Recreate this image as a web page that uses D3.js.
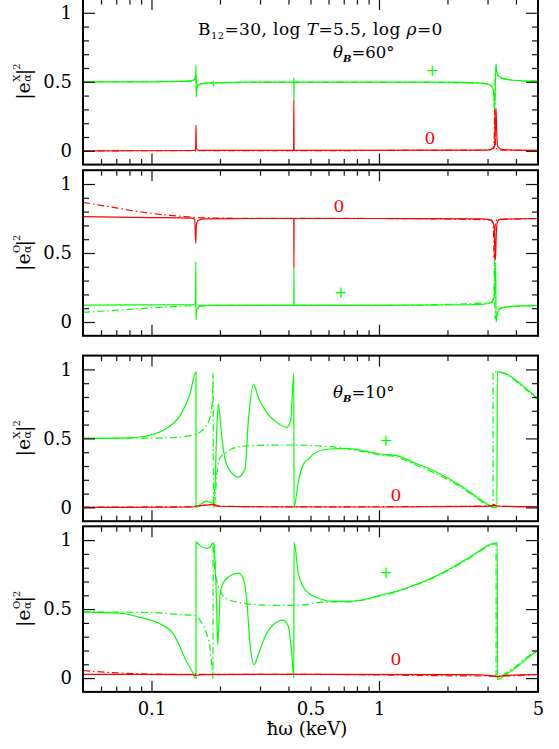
<!DOCTYPE html>
<html>
<head>
<meta charset="utf-8">
<script src="https://cdn.jsdelivr.net/npm/d3@7"></script>
<style>
  body { margin: 0; background: #fff; }
  svg { display: block; }
</style>
</head>
<body>
<div id="chart"></div>
<script>
// photon energy axis (keV) and ticks
const energyRange = [0.05, 5]
const xMajor = [0.1, 1]
const xMinor = [0.06, 0.07, 0.08, 0.09, 0.2, 0.3, 0.4, 0.5, 0.6, 0.7, 0.8, 0.9, 2, 3, 4]
const xLabels = [0.1, 0.5, 1, 5]
const yRange = [-0.1, 1.1]
const yMajor = [0, 0.5, 1]
const yMinor = [0.1, 0.2, 0.3, 0.4, 0.6, 0.7, 0.8, 0.9]

// panel 1: |e_X|^2, theta_B = 60
const x60GreenSolid = [[0.05, 0.5], [0.1, 0.5], [0.14, 0.503], [0.15, 0.508], [0.155, 0.52], [0.1565, 0.55], [0.1569, 0.62], [0.1573, 0.39], [0.158, 0.44], [0.16, 0.47], [0.165, 0.485], [0.18, 0.492], [0.25, 0.497], [0.4215, 0.5], [0.4225, 0.53], [0.4228, 0.37], [0.4235, 0.49], [0.43, 0.497], [1, 0.498], [2, 0.497], [2.8, 0.49], [3.05, 0.48], [3.15, 0.46], [3.2, 0.4], [3.22, 0.3], [3.25, 0.5], [3.27, 0.63], [3.29, 0.58], [3.35, 0.545], [3.5, 0.525], [3.8, 0.513], [4.3, 0.507], [5, 0.505]]
const x60GreenDash = [[0.05, 0.5], [0.15, 0.505], [0.155, 0.515], [0.157, 0.54], [0.1575, 0.47], [0.16, 0.485], [0.185, 0.49], [0.1865, 0.51], [0.187, 0.47], [0.19, 0.49], [0.3, 0.497], [1, 0.497], [2.8, 0.49], [3.1, 0.475], [3.18, 0.45], [3.21, 0.35], [3.23, 0.25], [3.24, 0.55], [3.26, 0.6], [3.3, 0.56], [3.4, 0.53], [3.7, 0.515], [5, 0.505]]
const x60RedSolid = [[0.05, 0], [0.155, 0.002], [0.1565, 0.03], [0.157, 0.186], [0.1575, 0.02], [0.16, 0.004], [0.4215, 0.003], [0.4225, 0.37], [0.4235, 0.003], [3.0, 0.005], [3.2, 0.02], [3.25, 0.15], [3.27, 0.31], [3.29, 0.15], [3.33, 0.03], [3.5, 0.008], [5, 0.003]]
const x60RedDash = [[0.05, 0], [3.0, 0.004], [3.18, 0.02], [3.21, 0.1], [3.225, 0.3], [3.24, 0.1], [3.27, 0.02], [3.4, 0.005], [5, 0.002]]

// panel 2: |e_O|^2, theta_B = 60
const o60GreenSolid = [[0.05, 0.123], [0.15, 0.125], [0.155, 0.13], [0.1562, 0.16], [0.1566, 0.437], [0.1569, 0.015], [0.1575, 0.07], [0.16, 0.1], [0.165, 0.115], [0.18, 0.12], [0.4222, 0.12], [0.4228, 0.39], [0.4234, 0.12], [1, 0.12], [2.5, 0.125], [2.9, 0.13], [3.1, 0.14], [3.18, 0.16], [3.23, 0.22], [3.26, 0.43], [3.27, 0], [3.3, 0.04], [3.35, 0.08], [3.45, 0.1], [3.7, 0.112], [5, 0.12]]
const o60GreenDash = [[0.05, 0.07], [0.06, 0.078], [0.07, 0.085], [0.08, 0.092], [0.1, 0.102], [0.12, 0.11], [0.14, 0.116], [0.155, 0.12], [0.2, 0.121], [1, 0.12], [3.1, 0.14], [3.2, 0.2], [3.22, 0.45], [3.235, 0.02], [3.27, 0.05], [3.4, 0.1], [5, 0.12]]
const o60RedSolid = [[0.05, 0.763], [0.1, 0.757], [0.15, 0.752], [0.155, 0.745], [0.1565, 0.57], [0.1575, 0.7], [0.16, 0.735], [0.17, 0.748], [0.25, 0.75], [0.4222, 0.75], [0.4228, 0.39], [0.4234, 0.75], [1, 0.75], [2.8, 0.748], [3.1, 0.74], [3.18, 0.72], [3.22, 0.65], [3.25, 0.45], [3.28, 0.65], [3.32, 0.73], [3.45, 0.745], [5, 0.75]]
const o60RedDash = [[0.05, 0.867], [0.06, 0.845], [0.07, 0.827], [0.08, 0.81], [0.09, 0.797], [0.1, 0.787], [0.12, 0.773], [0.14, 0.764], [0.16, 0.757], [0.2, 0.753], [0.3, 0.751], [1, 0.75], [3.1, 0.74], [3.18, 0.7], [3.21, 0.45], [3.24, 0.7], [3.3, 0.74], [5, 0.75]]

// panel 3: |e_X|^2, theta_B = 10
const x10GreenSolid = [[0.05, 0.5], [0.0727, 0.502], [0.089, 0.51], [0.0985, 0.524], [0.1166, 0.574], [0.1335, 0.665], [0.1476, 0.82], [0.1569, 0.983], [0.157, 0], [0.165, 0.025], [0.1748, 0.045], [0.182, 0.035], [0.1855, 0.03], [0.19, 0.15], [0.1935, 0.55], [0.1966, 0.75], [0.2035, 0.52], [0.2104, 0.35], [0.2213, 0.266], [0.2407, 0.22], [0.2576, 0.277], [0.2664, 0.62], [0.2802, 0.894], [0.2948, 0.797], [0.321, 0.688], [0.355, 0.616], [0.3929, 0.58], [0.4091, 0.63], [0.4225, 0.97], [0.423, 0], [0.4418, 0.18], [0.4494, 0.24], [0.4646, 0.31], [0.4971, 0.36], [0.5143, 0.387], [0.6089, 0.423], [0.7211, 0.428], [0.8531, 0.41], [1.0102, 0.387], [1.1963, 0.375], [1.4156, 0.326], [1.6757, 0.278], [1.9843, 0.217], [2.3484, 0.145], [2.7797, 0.06], [3.0224, 0.02], [3.3, 0], [3.311, 0.983], [3.642, 0.967], [4.03, 0.918], [4.459, 0.858], [5, 0.786]]
const x10GreenDash = [[0.05, 0.5], [0.1, 0.502], [0.13, 0.508], [0.1476, 0.52], [0.1634, 0.545], [0.1808, 0.65], [0.1855, 0.8], [0.1864, 0.974], [0.1872, 0], [0.1902, 0.05], [0.1935, 0.24], [0.2, 0.36], [0.214, 0.399], [0.2289, 0.43], [0.271, 0.447], [0.3671, 0.452], [0.4494, 0.452], [0.55, 0.445], [0.6089, 0.44], [0.7211, 0.425], [0.8531, 0.405], [1.0102, 0.38], [1.1963, 0.365], [1.4156, 0.315], [1.6757, 0.265], [1.9843, 0.205], [2.3484, 0.135], [2.7797, 0.05], [3.0, 0.015], [3.17, 0], [3.172, 0.98], [3.292, 0.982], [3.642, 0.962], [4.03, 0.91], [4.459, 0.85], [5, 0.78]]
const x10RedSolid = [[0.05, 0], [0.15, 0.003], [0.157, 0.01], [0.17, 0.015], [0.186, 0.02], [0.19, 0.01], [0.25, 0.005], [1, 0.003], [3.0, 0.008], [3.2, 0.015], [3.3, 0.01], [5, 0.005]]
const x10RedDash = [[0.05, 0.002], [0.15, 0.005], [0.175, 0.018], [0.186, 0.022], [0.2, 0.008], [0.5, 0.004], [3.1, 0.01], [3.2, 0.02], [3.3, 0.008], [5, 0.005]]

// panel 4: |e_O|^2, theta_B = 10
const o10GreenSolid = [[0.05, 0.478], [0.0727, 0.47], [0.089, 0.44], [0.109, 0.394], [0.1247, 0.32], [0.1335, 0.225], [0.1428, 0.116], [0.1527, 0.03], [0.1553, 0], [0.1569, 0], [0.157, 0.986], [0.1634, 0.96], [0.1748, 0.94], [0.1808, 0.95], [0.1864, 0.98], [0.1883, 0.97], [0.1935, 0.5], [0.1954, 0.24], [0.1985, 0.45], [0.2, 0.6], [0.2068, 0.69], [0.2213, 0.74], [0.2407, 0.76], [0.2532, 0.72], [0.2621, 0.57], [0.271, 0.25], [0.2822, 0.097], [0.2948, 0.17], [0.3155, 0.3], [0.343, 0.387], [0.3795, 0.42], [0.3993, 0.375], [0.4133, 0.18], [0.4225, 0], [0.423, 0.983], [0.4418, 0.76], [0.4646, 0.66], [0.4971, 0.61], [0.5143, 0.595], [0.55, 0.575], [0.6089, 0.558], [0.7211, 0.556], [0.8531, 0.568], [1.0102, 0.6], [1.1963, 0.63], [1.4156, 0.672], [1.6757, 0.72], [1.9843, 0.78], [2.3484, 0.848], [2.7797, 0.925], [3.075, 0.969], [3.311, 0.98], [3.318, -0.01], [3.642, 0.03], [4.03, 0.08], [4.459, 0.14], [5, 0.2]]
const o10GreenDash = [[0.05, 0.48], [0.1, 0.475], [0.1335, 0.46], [0.1527, 0.455], [0.1634, 0.42], [0.1748, 0.32], [0.1808, 0.22], [0.1845, 0.08], [0.1864, 0], [0.1866, 0.98], [0.1902, 0.78], [0.2, 0.636], [0.214, 0.575], [0.2407, 0.55], [0.2999, 0.53], [0.3671, 0.527], [0.4646, 0.53], [0.5143, 0.543], [0.6089, 0.553], [0.7211, 0.553], [0.8531, 0.565], [1.0102, 0.595], [1.1963, 0.625], [1.4156, 0.668], [1.6757, 0.715], [1.9843, 0.775], [2.3484, 0.842], [2.7797, 0.92], [3.075, 0.962], [3.27, 0.975], [3.272, 0], [3.4, 0.01], [3.642, 0.04], [4.03, 0.09], [4.459, 0.15], [5, 0.21]]
const o10RedSolid = [[0.05, 0.027], [0.15, 0.025], [0.157, 0.02], [0.17, 0.025], [0.5, 0.027], [2.5, 0.025], [3.1, 0.018], [3.3, 0.01], [3.6, 0.02], [5, 0.025]]
const o10RedDash = [[0.05, 0.055], [0.06, 0.045], [0.07, 0.038], [0.09, 0.031], [0.12, 0.028], [0.5, 0.027], [3.2, 0.015], [3.4, 0.015], [5, 0.027]]

// panel labels
const modeLetters = ['X', 'O', 'X', 'O']
const angleLabels = ['60°', null, '10°', null]
const plusAt = [[1.715, 70], [0.679, 292], [1.074, 440], [1.074, 572.5]]
const zeroAt = [[1.676, 144], [0.667, 212], [1.188, 501], [1.188, 665]]

const width = 559
const height = 749
const panelTops = [-1, 170.2, 355.6, 526.3]
const panelH = 165.6
const serif = '"DejaVu Serif", "Liberation Serif", serif'
const GREEN = '#00ff00'
const RED = '#ff0000'

const panels = [
  [x60GreenSolid, x60GreenDash, x60RedSolid, x60RedDash],
  [o60GreenSolid, o60GreenDash, o60RedSolid, o60RedDash],
  [x10GreenSolid, x10GreenDash, x10RedSolid, x10RedDash],
  [o10GreenSolid, o10GreenDash, o10RedSolid, o10RedDash]
]

const svg = d3.select('#chart')
  .append('svg')
  .attr('width', width)
  .attr('height', height)
  .style('background', '#fff')

const x = d3.scaleLog().domain(energyRange).range([83, 538])
const [x0, x1] = x.range()

const curveStyles = [
  { color: GREEN, dash: null },
  { color: GREEN, dash: '7,3,1.5,3' },
  { color: RED, dash: null },
  { color: RED, dash: '7,3,1.5,3' }
]

panels.forEach((curveSet, i) => {
  const top = panelTops[i]
  const y = d3.scaleLinear().domain(yRange).range([top + panelH, top])
  const g = svg.append('g')

  g.append('clipPath')
    .attr('id', 'clip' + i)
    .append('rect')
    .attr('x', x0)
    .attr('y', top)
    .attr('width', x1 - x0)
    .attr('height', panelH)

  const line = d3.line()
    .curve(d3.curveMonotoneX)
    .x(d => x(d[0]))
    .y(d => y(d[1]))

  const curves = g.append('g').attr('clip-path', `url(#clip${i})`)
  curveSet.forEach((data, k) => {
    curves.append('path')
      .datum(data)
      .attr('d', line)
      .attr('fill', 'none')
      .attr('stroke', curveStyles[k].color)
      .attr('stroke-width', 1.2)
      .attr('stroke-dasharray', curveStyles[k].dash)
  })

  // inward ticks on all four sides
  const tickGroups = [
    [d3.axisBottom(x).tickValues(xMajor).tickSize(-11), `translate(0,${top + panelH})`],
    [d3.axisBottom(x).tickValues(xMinor).tickSize(-5.5), `translate(0,${top + panelH})`],
    [d3.axisTop(x).tickValues(xMajor).tickSize(-11), `translate(0,${top})`],
    [d3.axisTop(x).tickValues(xMinor).tickSize(-5.5), `translate(0,${top})`],
    [d3.axisLeft(y).tickValues(yMajor).tickSize(-12), `translate(${x0},0)`],
    [d3.axisLeft(y).tickValues(yMinor).tickSize(-6), `translate(${x0},0)`],
    [d3.axisRight(y).tickValues(yMajor).tickSize(-12), `translate(${x1},0)`],
    [d3.axisRight(y).tickValues(yMinor).tickSize(-6), `translate(${x1},0)`]
  ]
  tickGroups.forEach(([axis, tr]) => {
    const a = g.append('g')
      .attr('transform', tr)
      .call(axis.tickFormat(''))
    a.select('.domain').remove()
    a.selectAll('line').attr('stroke', '#111').attr('stroke-width', 1.2)
  })

  // y tick labels
  const yl = g.append('g')
    .attr('transform', `translate(${x0},0)`)
    .call(d3.axisLeft(y).tickValues(yMajor).tickSize(0).tickPadding(11).tickFormat(d => String(d)))
  yl.select('.domain').remove()
  yl.selectAll('text')
    .attr('font-family', serif)
    .attr('font-size', 18)
    .attr('fill', '#000')

  // frame
  g.append('rect')
    .attr('x', x0)
    .attr('y', top)
    .attr('width', x1 - x0)
    .attr('height', panelH)
    .attr('fill', 'none')
    .attr('stroke', '#000')
    .attr('stroke-width', 2)

  // rotated y label |e^M_alpha|^2
  const yc = y(0.5)
  const lab = g.append('g')
    .attr('transform', `translate(30,${yc}) rotate(-90)`)
    .attr('font-family', serif)
    .attr('fill', '#000')
  lab.append('text').attr('x', -18).attr('y', 0).attr('font-size', 19).text('|e')
  lab.append('text').attr('x', 0).attr('y', -10.5).attr('font-size', 10).text(modeLetters[i])
  lab.append('text').attr('x', 0).attr('y', 1).attr('font-size', 11).text('α')
  lab.append('text').attr('x', 6.5).attr('y', 0).attr('font-size', 19).text('|')
  lab.append('text').attr('x', 12).attr('y', -10.5).attr('font-size', 10).text('2')

  // mode markers
  g.append('text')
    .attr('x', x(plusAt[i][0]))
    .attr('y', plusAt[i][1])
    .attr('text-anchor', 'middle')
    .attr('dominant-baseline', 'central')
    .attr('font-family', serif)
    .attr('font-size', 16)
    .attr('fill', GREEN)
    .text('+')
  g.append('text')
    .attr('x', x(zeroAt[i][0]))
    .attr('y', zeroAt[i][1])
    .attr('text-anchor', 'middle')
    .attr('font-family', serif)
    .attr('font-size', 17)
    .attr('fill', RED)
    .text('0')

  if (angleLabels[i]) {
    const angleY = i === 0 ? 57.5 : 398
    const t = g.append('text')
      .attr('x', 333)
      .attr('y', angleY)
      .attr('font-family', serif)
      .attr('font-size', 16.5)
      .attr('fill', '#000')
    t.append('tspan').attr('font-style', 'italic').text('θ')
    t.append('tspan').attr('font-style', 'italic').attr('font-weight', 'bold')
      .attr('font-size', 10).attr('dy', 4).text('B')
    t.append('tspan').attr('dy', -4).text('=' + angleLabels[i])
  }

  // x tick labels on the bottom panel
  if (i === panels.length - 1) {
    const xl = g.append('g')
      .attr('transform', `translate(0,${top + panelH})`)
      .call(d3.axisBottom(x).tickValues(xLabels).tickSize(0).tickPadding(10).tickFormat(d => String(d)))
    xl.select('.domain').remove()
    xl.selectAll('text')
      .attr('font-family', serif)
      .attr('font-size', 18)
      .attr('fill', '#000')
  }
})

// header text
const title = svg.append('text')
  .attr('x', 198)
  .attr('y', 35)
  .attr('font-family', serif)
  .attr('font-size', 17)
  .attr('letter-spacing', 0.4)
  .attr('fill', '#000')
title.append('tspan').text('B')
title.append('tspan').attr('font-size', 10).attr('dy', 4).text('12')
title.append('tspan').attr('dy', -4).text('=30,  log ')
title.append('tspan').attr('font-style', 'italic').text('T')
title.append('tspan').text('=5.5,  log ')
title.append('tspan').attr('font-style', 'italic').text('ρ')
title.append('tspan').text('=0')

// x axis title
svg.append('text')
  .attr('x', 307)
  .attr('y', 735)
  .attr('text-anchor', 'middle')
  .attr('font-family', serif)
  .attr('font-size', 18)
  .attr('fill', '#000')
  .text('ħω  (keV)')
</script>
</body>
</html>
